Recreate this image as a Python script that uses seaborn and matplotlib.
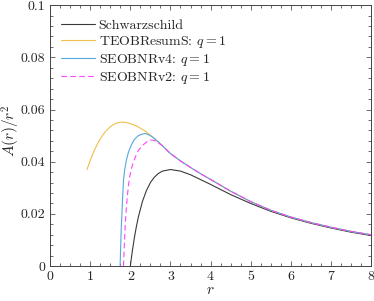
import numpy as np
import pandas as pd
import matplotlib
matplotlib.use("Agg")
import matplotlib.pyplot as plt
from matplotlib.ticker import MultipleLocator
import seaborn as sns

# values
r_schw = [2.0, 2.02, 2.05, 2.1, 2.15, 2.2, 2.3, 2.4, 2.5, 2.6, 2.7, 2.8, 3.0, 3.25,
          3.5, 4.0, 4.5, 5.0, 5.5, 6.0, 6.5, 7.0, 7.5, 8.0]
a_schw = [0.0, 0.0024, 0.0058, 0.0108, 0.0151, 0.0188, 0.0247, 0.0289, 0.0320,
          0.0341, 0.0355, 0.0364, 0.0370, 0.0364, 0.0350, 0.0313, 0.0274, 0.0240,
          0.0210, 0.0185, 0.0164, 0.0146, 0.0130, 0.0117]

r_tail = [2.6, 2.7, 2.8, 2.9, 3.0, 3.25, 3.5, 3.75, 4.0, 4.5, 5.0, 5.5, 6.0, 6.5,
          7.0, 7.5, 8.0]
a_tail = [0.0489, 0.0475, 0.0461, 0.0446, 0.0431, 0.0403, 0.0378, 0.0354, 0.0332,
          0.0287, 0.0247, 0.0214, 0.0188, 0.0167, 0.0149, 0.0133, 0.0120]

r_teob = [0.92, 1.0, 1.1, 1.2, 1.3, 1.4, 1.5, 1.6, 1.7, 1.8, 1.9, 2.0, 2.1, 2.2,
          2.3, 2.4, 2.5] + r_tail
a_teob = [0.0370, 0.0405, 0.0443, 0.0474, 0.0499, 0.0519, 0.0534, 0.0544, 0.0550,
          0.0552, 0.0550, 0.0546, 0.0540, 0.0533, 0.0524, 0.0514, 0.0501] + a_tail

r_v4 = [1.745, 1.76, 1.775, 1.79, 1.81, 1.83, 1.86, 1.9, 1.95, 2.0, 2.05, 2.1,
        2.2, 2.3, 2.37, 2.45, 2.54] + r_tail
a_v4 = [0.0, 0.0080, 0.0150, 0.0200, 0.0270, 0.0330, 0.0370, 0.0405, 0.0435,
        0.0455, 0.0472, 0.0485, 0.0500, 0.0506, 0.0508, 0.0504, 0.0496] + a_tail

r_v2 = [1.83, 1.85, 1.87, 1.89, 1.92, 1.95, 1.98, 2.03, 2.08, 2.15, 2.2, 2.3,
        2.41, 2.5, 2.54, 2.6, 2.7, 2.8] + r_tail[3:]
a_v2 = [0.0, 0.0080, 0.0150, 0.0200, 0.0260, 0.0305, 0.0340, 0.0375, 0.0400,
        0.0427, 0.0443, 0.0462, 0.0476, 0.0482, 0.0483, 0.0481, 0.0472, 0.0461] + a_tail[3:]

labels = ["Schwarzschild", "TEOBResumS: $q=1$", "SEOBNRv4: $q=1$", "SEOBNRv2: $q=1$"]
colors = ["#3a3a3a", "#F0BE4A", "#55A8DC", "#FF44FF"]

x_ticks = [0, 1, 2, 3, 4, 5, 6, 7, 8]
y_ticks = [0, 0.02, 0.04, 0.06, 0.08, 0.1]
y_tick_labels = ["0", "0.02", "0.04", "0.06", "0.08", "0.1"]


def main():
    sns.set_style("ticks")
    plt.rcParams["font.family"] = ["cmr10"]
    plt.rcParams["mathtext.fontset"] = "cm"
    plt.rcParams["axes.formatter.use_mathtext"] = True

    fig = plt.figure(figsize=(3.74, 3.01), dpi=100)
    ax = fig.add_axes([0.134, 0.116, 0.858, 0.867])

    series = [(r_schw, a_schw), (r_teob, a_teob), (r_v4, a_v4), (r_v2, a_v2)]
    for (r, a), lab, col in zip(series, labels, colors):
        df = pd.DataFrame({"r": r, "A": a})
        ls = (0, (5, 3)) if "v2" in lab else "-"
        sns.lineplot(data=df, x="r", y="A", ax=ax, color=col, lw=0.8,
                     linestyle=ls, label=lab, sort=False)

    ax.set_xlim(0, 8)
    ax.set_ylim(0, 0.1)
    ax.set_xticks(x_ticks)
    ax.set_xticklabels([str(t) for t in x_ticks])
    ax.set_yticks(y_ticks)
    ax.set_yticklabels(y_tick_labels)
    ax.xaxis.set_minor_locator(MultipleLocator(0.25))
    ax.yaxis.set_minor_locator(MultipleLocator(0.004))
    ax.tick_params(which="both", direction="in", top=True, right=True,
                   labelsize=10, width=0.6, color="#555555")
    ax.tick_params(which="major", length=3.5)
    ax.tick_params(which="minor", length=2)
    for s in ax.spines.values():
        s.set_linewidth(0.7)
        s.set_color("#444444")

    ax.set_xlabel("$r$", fontsize=11, labelpad=0)
    ax.set_ylabel("$A(r)/r^2$", fontsize=11)
    ax.yaxis.set_label_coords(-0.088, 0.517)

    ax.legend(loc="upper left", frameon=False, fontsize=10, handlelength=2.4,
              handletextpad=0.3, labelspacing=0.15, borderaxespad=0.4,
              bbox_to_anchor=(0.0, 0.99))

    fig.savefig("out.png", dpi=100)


if __name__ == "__main__":
    main()
